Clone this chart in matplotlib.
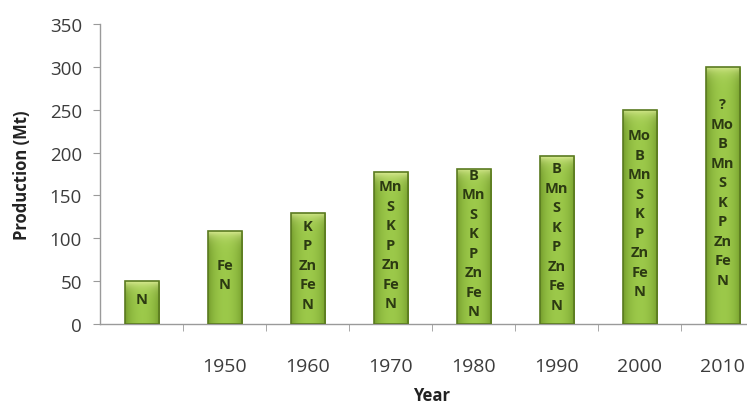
import numpy as np
import matplotlib
matplotlib.use("Agg")
from matplotlib import pyplot as plt
from matplotlib.colors import to_rgb

# fertiliser production by decade, with nutrients in use
years = ["", "1950", "1960", "1970", "1980", "1990", "2000", "2010"]
production = [50, 108, 130, 177, 181, 196, 250, 300]
nutrients = [
    ["N"],
    ["Fe", "N"],
    ["K", "P", "Zn", "Fe", "N"],
    ["Mn", "S", "K", "P", "Zn", "Fe", "N"],
    ["B", "Mn", "S", "K", "P", "Zn", "Fe", "N"],
    ["B", "Mn", "S", "K", "P", "Zn", "Fe", "N"],
    ["Mo", "B", "Mn", "S", "K", "P", "Zn", "Fe", "N"],
    ["?", "Mo", "B", "Mn", "S", "K", "P", "Zn", "Fe", "N"],
]

plt.rcParams['font.family'] = ['Open Sans', 'DejaVu Sans']

AXIS_GREY = "#9a9a9a"
TEXT_GREY = "#3c3c3c"


def bar_gradient(height, ncols=48, nrows=300):
    """ cylinder-like shading with a pale highlight at the top """
    dark = np.array(to_rgb("#6f9728"))
    light = np.array(to_rgb("#9cc94a"))
    top = np.array(to_rgb("#dbeb95"))
    xs = np.linspace(0, 1, ncols)
    prof = np.sin(np.pi * xs) ** 0.6
    row = dark + (light - dark) * prof[:, None]
    img = np.repeat(row[None, :, :], nrows, axis=0)
    # distance from top in data units (row 0 is the top)
    dist = np.linspace(0, height, nrows)
    w = np.exp(-dist / 7.0)[:, None, None]
    img = img * (1 - w) + top * w
    return np.clip(img, 0, 1)


fig = plt.figure(figsize=(7.47, 4.10), dpi=100)
ax = fig.add_axes([0.1339, 0.2073, 1.0228 - 0.1339, 0.7317])

x = np.arange(len(years))
bars = ax.bar(x, production, width=0.41, facecolor="none",
              edgecolor="#5a7a20", linewidth=1.2, zorder=3)

for rect, val, elems in zip(bars, production, nutrients):
    x0 = rect.get_x()
    x1 = x0 + rect.get_width()
    im = ax.imshow(bar_gradient(val), extent=(x0, x1, 0, val),
                   aspect="auto", origin="upper", zorder=2,
                   interpolation="bilinear")
    im.set_clip_path(rect)
    ax.text(rect.get_x() + rect.get_width() / 2, val / 2 + 4,
            "\n".join(elems), ha="center", va="center",
            fontsize=10.5, fontweight="bold", color="#2c3a12",
            linespacing=1.5, zorder=4)

ax.set_xlim(-0.5, len(years) - 0.5)
ax.set_ylim(0, 350)
ax.set_yticks(np.arange(0, 351, 50))

ax.set_xticks(x)
ax.set_xticklabels(years)
ax.set_xticks(np.arange(0.5, len(years) - 0.5, 1), minor=True)
ax.tick_params(axis="x", which="major", length=0, pad=24,
               labelsize=14, labelcolor=TEXT_GREY)
ax.tick_params(axis="x", which="minor", length=5, color=AXIS_GREY,
               direction="out")
ax.tick_params(axis="y", length=5, color=AXIS_GREY, pad=8,
               labelsize=13.5, labelcolor=TEXT_GREY)

for side in ["top", "right"]:
    ax.spines[side].set_visible(False)
for side in ["left", "bottom"]:
    ax.spines[side].set_color(AXIS_GREY)
    ax.spines[side].set_linewidth(1.0)

ax.set_ylabel("Production (Mt)", fontsize=12, fontweight="bold",
              color="#222222")
ax.set_xlabel("Year", fontsize=12, fontweight="bold", color="#222222")
ax.xaxis.set_label_coords((432 - 100) / (764 - 100), -0.205)
ax.yaxis.set_label_coords(-0.104, 0.5)

fig.savefig("out.png", dpi=100)
